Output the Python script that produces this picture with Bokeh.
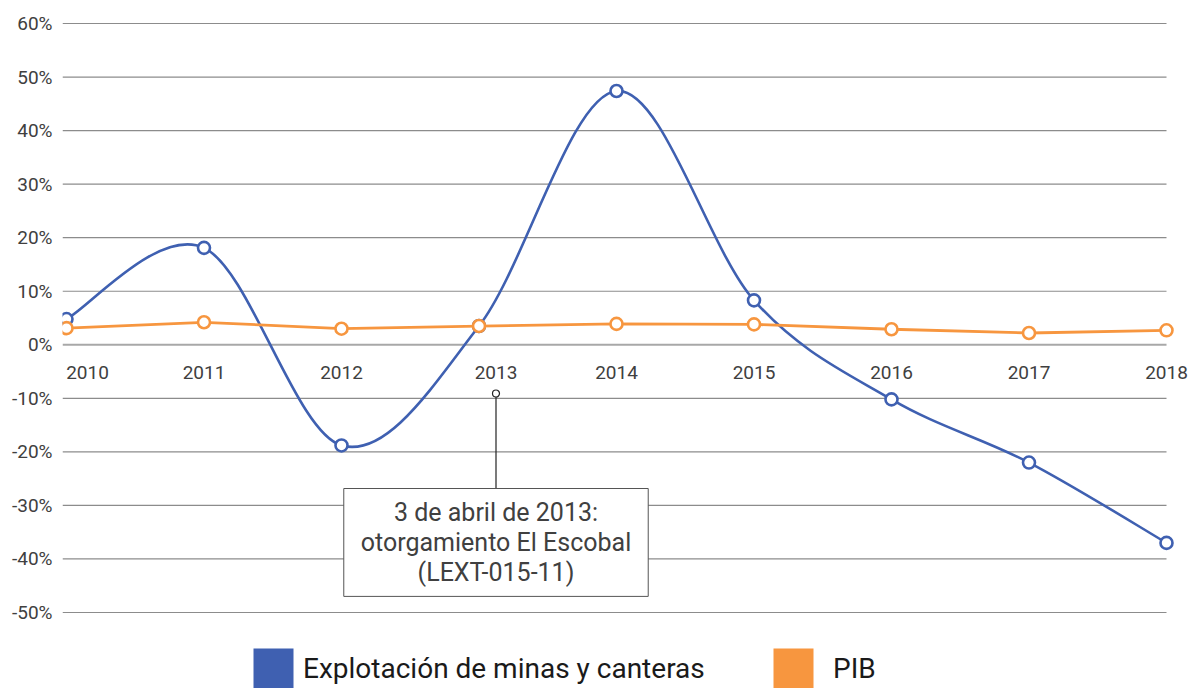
from bokeh.plotting import figure
from bokeh.models import (FixedTicker, PrintfTickFormatter, Legend, LegendItem, Label, Range1d)
from bokeh.core.properties import value
from bokeh.embed import file_html
from bokeh.resources import INLINE

# ---------------- data ----------------
years = [2010, 2011, 2012, 2013, 2014, 2015, 2016, 2017, 2018]
year_labels = ["2010", "2011", "2012", "2013", "2014", "2015", "2016", "2017", "2018"]
mineria = [4.8, 18.1, -18.8, 3.5, 47.4, 8.3, -10.2, -22.0, -37.0]
pib = [3.1, 4.2, 3.0, 3.5, 3.9, 3.8, 2.9, 2.2, 2.7]
y_ticks = [-50, -40, -30, -20, -10, 0, 10, 20, 30, 40, 50, 60]
series_names = ["Explotación de minas y canteras", "PIB"]
note_text = "3 de abril de 2013:\notorgamiento El Escobal\n(LEXT-015-11)"
note_year = 2013

# ---------------- layout constants ----------------
W, H = 1190, 688
FRAME_LEFT = 62
FRAME_W = W - FRAME_LEFT
PX_PER_YEAR = 137.5
PX_PER_PCT = 5.3545
TOP_TICK_PX = 23

X0 = years[0] - 4 / PX_PER_YEAR
X1 = X0 + FRAME_W / PX_PER_YEAR
Y_TOP = y_ticks[-1] + TOP_TICK_PX / PX_PER_PCT
Y_BOT = Y_TOP - H / PX_PER_PCT


def ydata(px):
    return Y_TOP - px / PX_PER_PCT


BLUE = "#3F60B1"
ORANGE = "#F7963F"
FONT = "Roboto"

p = figure(width=W, height=H, output_backend="svg", toolbar_location=None,
           x_range=Range1d(X0, X1), y_range=Range1d(Y_BOT, Y_TOP),
           x_axis_location=None, min_border_left=FRAME_LEFT, min_border_right=0,
           min_border_top=0, min_border_bottom=0)
p.outline_line_color = None
p.xgrid.visible = False
p.ygrid.visible = False

yax = p.yaxis[0]
yax.ticker = FixedTicker(ticks=y_ticks)
yax.formatter = PrintfTickFormatter(format="%d%%")
yax.axis_line_color = None
yax.major_tick_line_color = None
yax.minor_tick_line_color = None
yax.major_tick_out = 0
yax.minor_tick_out = 0
yax.major_label_text_font = FONT
yax.major_label_text_font_size = "19px"
yax.major_label_text_color = "#404040"
yax.major_label_standoff = 10

# gridlines (0% line slightly lighter and thicker)
grid_vals = [t for t in y_ticks if t != 0]
p.segment(x0=[X0] * len(grid_vals), x1=[years[-1]] * len(grid_vals), y0=grid_vals, y1=grid_vals,
          line_color="#8c8c8c", line_width=1.2)
p.segment(x0=[X0], x1=[years[-1]], y0=[0], y1=[0], line_color="#a8a8a8", line_width=2)

# year labels, placed under the 0% line
lab_offsets = [21, 0, 0, 17, 0, 0, 0, 0, 0]
p.text(x=years, y=[0] * len(years), text=year_labels, x_offset=lab_offsets, y_offset=28,
       text_align="center", text_baseline="middle", text_font=value(FONT),
       text_font_size="19px", text_color="#404040")

# smoothed blue line (Excel-style Bezier smoothing of the data points)
n = len(years)
bx0, by0, bx1, by1, cx0, cy0, cx1, cy1 = [], [], [], [], [], [], [], []
for i in range(n - 1):
    xa, ya = years[i], mineria[i]
    xb, yb = years[i + 1], mineria[i + 1]
    xp, yp = (years[i - 1], mineria[i - 1]) if i > 0 else (xa, ya)
    xn, yn = (years[i + 2], mineria[i + 2]) if i + 2 < n else (xb, yb)
    bx0.append(xa); by0.append(ya); bx1.append(xb); by1.append(yb)
    cx0.append(xa + (xb - xp) / 6); cy0.append(ya + (yb - yp) / 6)
    cx1.append(xb - (xn - xa) / 6); cy1.append(yb - (yn - ya) / 6)
p.bezier(x0=bx0, y0=by0, x1=bx1, y1=by1, cx0=cx0, cy0=cy0, cx1=cx1, cy1=cy1,
         line_color=BLUE, line_width=2.6)
p.scatter(years, mineria, marker="circle", size=12, fill_color="white",
          line_color=BLUE, line_width=2.6)

p.line(years, pib, line_color=ORANGE, line_width=2.8)
p.scatter(years, pib, marker="circle", size=12, fill_color="white",
          line_color=ORANGE, line_width=2.6)

# annotation
ax = note_year + 17 / PX_PER_YEAR
p.segment(x0=[ax], x1=[ax], y0=[ydata(393)], y1=[ydata(488)], line_color="#222222", line_width=1.2)
p.scatter([ax], [ydata(393)], marker="circle", size=7, fill_color="white",
          line_color="#222222", line_width=1.2)
note = Label(x=ax, y=ydata(488), text=note_text, text_align="center", text_baseline="top",
             text_font=FONT, text_font_size="25px", text_color="#404040", text_line_height=1.05,
             background_fill_color="white", border_line_color="#555555", border_line_width=1,
             padding=(17, 9))
p.add_layout(note)

# legend (colour swatches from zero-size helper quads)
r1 = p.quad(left=[years[0]], right=[years[0]], top=[0], bottom=[0], fill_color=BLUE, line_color=None)
r2 = p.quad(left=[years[0]], right=[years[0]], top=[0], bottom=[0], fill_color=ORANGE, line_color=None)
legend_style = dict(orientation="horizontal", glyph_width=50, glyph_height=50, padding=0, margin=0,
                    border_line_color=None, background_fill_alpha=0, label_text_font=FONT,
                    label_text_font_size="28px", label_text_color="#1a1a1a")
legend1 = Legend(items=[LegendItem(label=series_names[0], renderers=[r1])],
                 location=(186, -5), label_standoff=5, **legend_style)
legend2 = Legend(items=[LegendItem(label=series_names[1], renderers=[r2])],
                 location=(706, -5), label_standoff=15, **legend_style)
p.add_layout(legend1)
p.add_layout(legend2)

open("out.html", "w").write(file_html(p, INLINE))
